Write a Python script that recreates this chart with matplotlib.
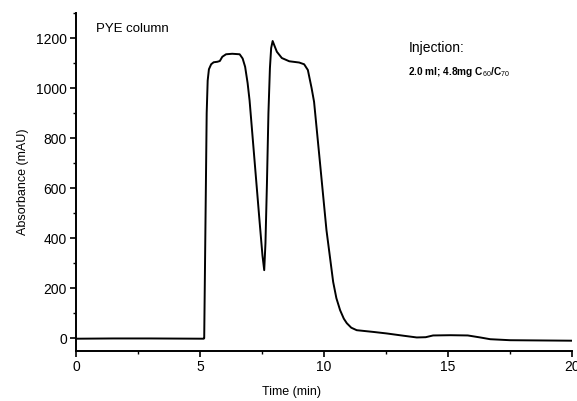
import numpy as np
import matplotlib
matplotlib.use("Agg")
import matplotlib.pyplot as plt
from matplotlib.ticker import MultipleLocator

plt.rcParams["font.family"] = ["Liberation Sans", "DejaVu Sans"]
plt.rcParams["mathtext.fontset"] = "custom"
plt.rcParams["mathtext.rm"] = "Liberation Sans"
plt.rcParams["mathtext.it"] = "Liberation Sans"
plt.rcParams["mathtext.bf"] = "Liberation Sans:bold"

# chromatogram trace
time_min = [0.0, 1.5, 3.0, 5.15, 5.17, 5.22, 5.27, 5.31, 5.36, 5.45,
            5.55, 5.7, 5.8, 5.9, 6.05, 6.3, 6.6, 6.72, 6.82, 6.92,
            7.0, 7.2, 7.4, 7.52, 7.59, 7.64, 7.7, 7.76, 7.82, 7.87,
            7.93, 8.0, 8.1, 8.3, 8.6, 9.0, 9.2, 9.35, 9.5, 9.6,
            9.84, 10.1, 10.37, 10.5, 10.65, 10.8, 10.92, 11.1, 11.32, 12.0,
            12.53, 13.2, 13.74, 14.1, 14.4, 15.1, 15.8, 16.3, 16.7, 17.5,
            20.0]
absorbance = [-2, -1, -1, -2, 0, 450, 900, 1030, 1075, 1095,
              1103, 1105, 1108, 1125, 1135, 1137, 1135, 1118, 1085, 1020,
              950, 710, 470, 330, 272, 380, 620, 900, 1080, 1160,
              1188, 1170, 1145, 1120, 1107, 1102, 1095, 1072, 1000, 945,
              700, 432, 225, 160, 112, 78, 60, 42, 32, 25,
              19, 10, 3, 4, 11, 12, 11, 3, -4, -8,
              -10]

x_ticks = [0, 5, 10, 15, 20]
y_ticks = [0, 200, 400, 600, 800, 1000, 1200]

fig = plt.figure(figsize=(5.77, 4.01), dpi=100)
ax = fig.add_axes([0.1317, 0.1254, 0.8596, 0.8422])

ax.plot(time_min, absorbance, color="black", lw=1.4)

ax.set_xlim(0, 20)
ax.set_ylim(-50, 1300)
ax.set_xticks(x_ticks)
ax.set_yticks(y_ticks)
ax.xaxis.set_minor_locator(MultipleLocator(2.5))
ax.yaxis.set_minor_locator(MultipleLocator(100))

for side in ["top", "right"]:
    ax.spines[side].set_visible(False)
for side in ["left", "bottom"]:
    ax.spines[side].set_linewidth(1.4)

ax.tick_params(which="major", direction="out", length=4, width=1.2,
               labelsize=10, pad=2.5)
ax.tick_params(which="minor", direction="out", length=2.5, width=1.0)

ax.set_xlabel("Time (min)", fontsize=9)
ax.xaxis.set_label_coords(0.435, -0.105)
ax.set_ylabel("Absorbance (mAU)", fontsize=9, labelpad=5)

ax.text(0.8, 1235, "PYE column", fontsize=9.5, va="center")
ax.text(13.4, 1160, "Injection:", fontsize=10, va="center")
ax.text(13.4, 1065, r"2.0 ml; 4.8mg C$_{60}$/C$_{70}$", fontsize=7.3,
        va="center", fontweight="bold")

fig.savefig("out.png", dpi=100)
